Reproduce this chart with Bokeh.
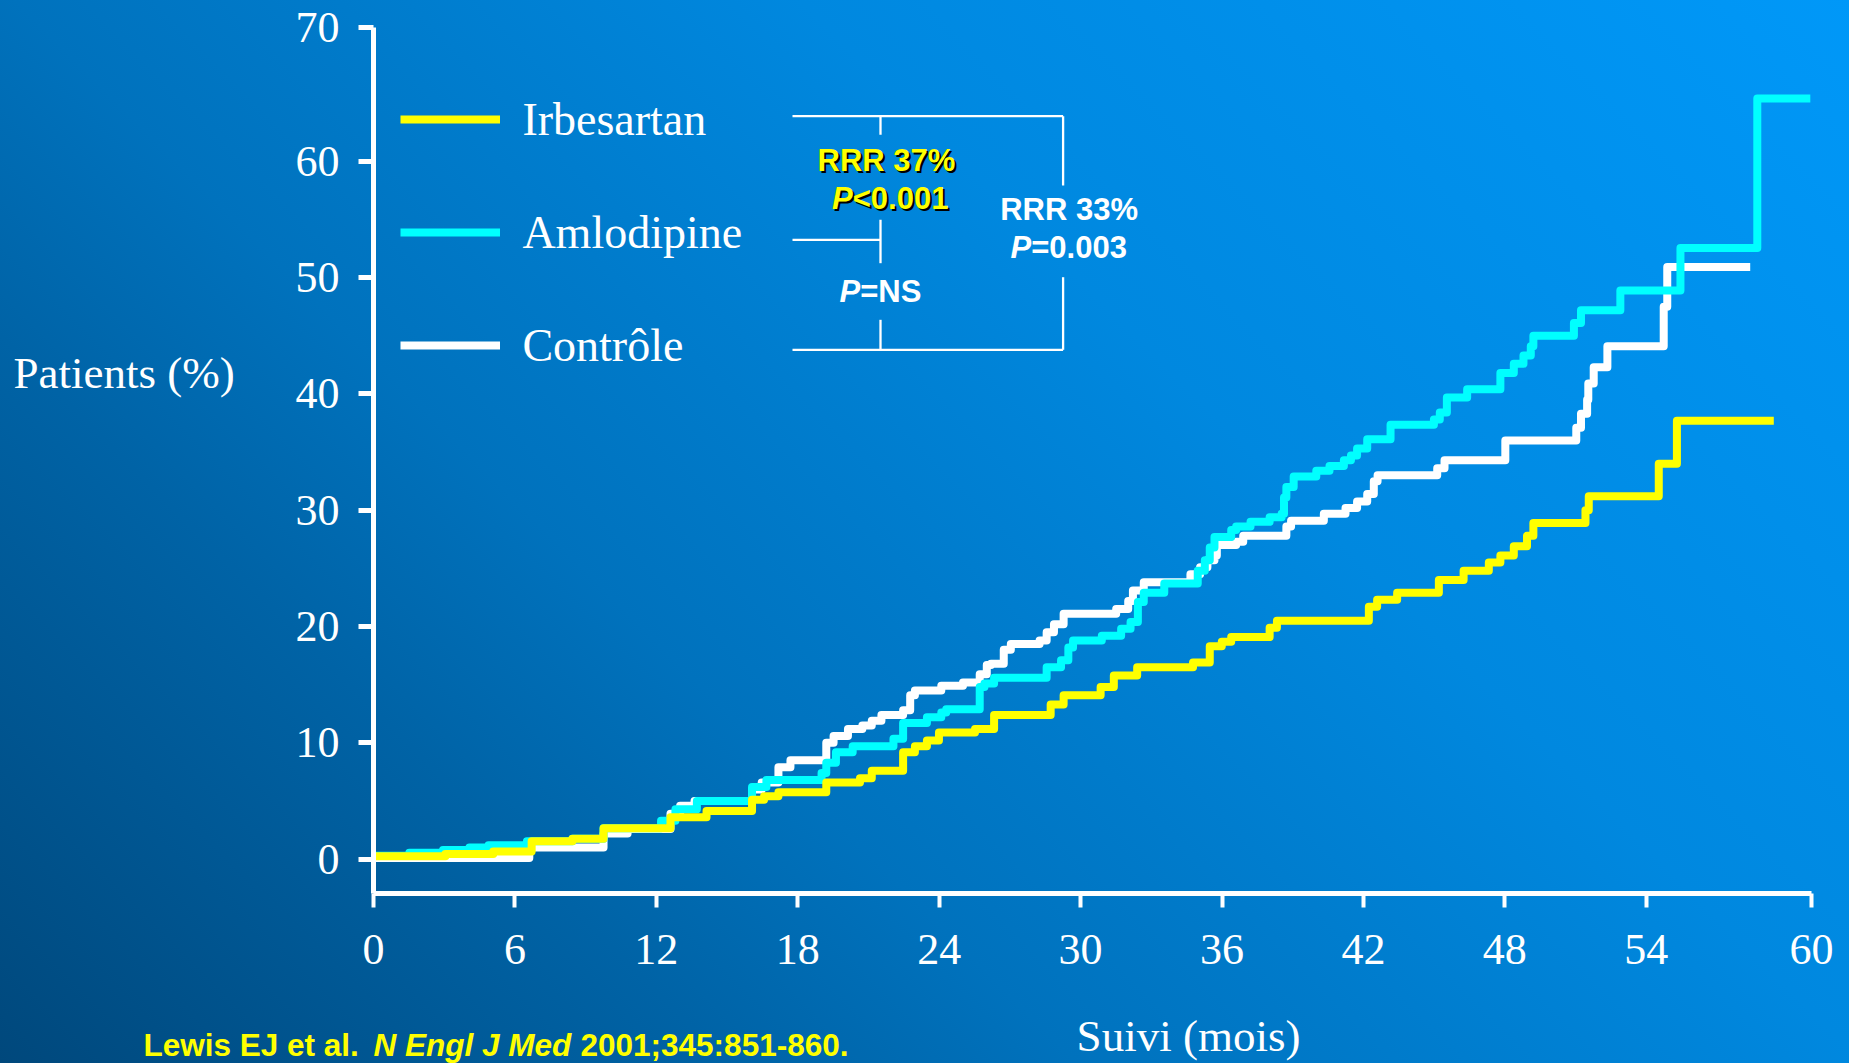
from bokeh.plotting import figure
from bokeh.models import FixedTicker, Label, Legend, LegendItem
from bokeh.embed import file_html
from bokeh.resources import INLINE

# Cumulative event rate (%) per treatment arm, as step curves over months of follow-up
irb_months = [0, 3.05, 5.08, 6.71, 8.44, 9.76, 12.6, 14.13, 16.06, 16.57, 17.18,
              19.21, 20.64, 21.14, 22.47, 22.97, 23.48, 23.99, 25.52, 26.33, 28.73,
              29.28, 30.85, 31.41, 32.4, 34.77, 35.48, 35.99, 36.39, 38.02, 38.33,
              42.23, 42.58, 43.43, 45.2, 46.25, 47.32, 47.81, 48.38, 48.94, 49.21,
              51.42, 51.56, 54.53, 55.3, 59.41]
irb_pct = [0.25, 0.45, 0.65, 1.55, 1.75, 2.65, 3.6, 4.15, 5.1, 5.4, 5.75,
           6.6, 6.95, 7.6, 9.2, 9.7, 10.2, 10.9, 11.2, 12.4, 13.3,
           14.1, 14.8, 15.8, 16.5, 16.9, 18.3, 18.7, 19.1, 19.9, 20.5,
           21.7, 22.3, 22.9, 24.0, 24.8, 25.5, 26.1, 26.9, 27.8, 28.9,
           30.0, 31.2, 34.0, 37.7, 37.7]

aml_months = [0, 1.52, 2.95, 4.07, 4.88, 6.51, 8.44, 9.76, 12.2, 12.81,
              13.72, 16.06, 16.67, 19.01, 19.21, 19.62, 20.33, 22.06, 22.47, 23.48,
              24.09, 24.3, 25.72, 25.92, 26.33, 28.56, 29.17, 29.48, 29.68, 30.9,
              31.72, 32.12, 32.43, 32.68, 33.55, 34.97, 35.27, 35.48, 35.68, 36.39,
              36.6, 37.21, 38.02, 38.53, 38.63, 38.73, 39.04, 40.0, 40.56, 41.17,
              41.47, 41.73, 42.16, 43.15, 44.99, 45.24, 45.54, 46.4, 47.81, 48.38,
              48.79, 49.1, 49.21, 50.93, 51.23, 52.9, 55.45, 58.71, 60.96]
aml_pct = [0.3, 0.55, 0.8, 1.0, 1.2, 1.55, 1.75, 2.65, 3.3, 4.3,
           5.0, 6.2, 6.8, 7.4, 8.3, 9.2, 9.7, 10.35, 11.7, 12.2,
           12.6, 12.9, 14.8, 15.1, 15.6, 16.5, 17.1, 18.2, 18.8, 19.2,
           19.8, 20.4, 22.1, 22.9, 23.7, 24.8, 25.7, 26.8, 27.7, 28.3,
           28.6, 29.0, 29.4, 29.7, 31.1, 32.0, 32.9, 33.4, 33.8, 34.3,
           34.7, 35.3, 36.1, 37.35, 37.8, 38.4, 39.7, 40.4, 41.8, 42.6,
           43.3, 44.1, 45.0, 46.1, 47.2, 48.9, 52.55, 65.4, 65.4]

ctl_months = [0, 6.61, 9.76, 10.78, 12.6, 13.01, 13.62, 16.06, 16.47, 17.18,
              17.69, 19.21, 19.52, 20.13, 20.74, 21.14, 21.55, 22.47, 22.77, 22.97,
              24.09, 25.01, 25.72, 26.02, 26.2, 26.74, 27.04, 28.26, 28.56, 28.87,
              29.28, 31.51, 32.02, 32.22, 32.68, 34.66, 35.07, 35.38, 35.68, 35.78,
              36.6, 36.9, 38.73, 38.93, 40.32, 41.24, 41.73, 42.16, 42.44, 42.6,
              45.13, 45.44, 48.02, 51.03, 51.23, 51.49, 51.54, 51.77, 52.35, 54.74,
              54.89, 58.41]
ctl_pct = [0.1, 1.0, 2.2, 2.6, 3.9, 4.6, 5.0, 6.0, 6.6, 7.9,
           8.5, 10.0, 10.6, 11.2, 11.5, 11.9, 12.4, 12.8, 14.1, 14.5,
           14.9, 15.2, 15.9, 16.7, 16.8, 18.0, 18.5, 18.8, 19.5, 20.2,
           21.1, 21.5, 22.2, 23.1, 23.8, 24.5, 25.1, 25.7, 26.1, 27.0,
           27.3, 27.8, 28.6, 29.1, 29.7, 30.2, 30.75, 31.4, 32.5, 33.0,
           33.6, 34.3, 36.0, 37.1, 38.3, 39.5, 40.9, 42.3, 44.1, 47.5,
           50.9, 50.9]

series_names = ["Irbesartan", "Amlodipine", "Contrôle"]
series_colors = ["#ffff00", "#00ffff", "#ffffff"]

# Axis ticks; the last tick of each axis sits at the axis end
x_ticks = [0, 6, 12, 18, 24, 30, 36, 42, 48, 54, 61.01]
x_tick_labels = ["0", "6", "12", "18", "24", "30", "36", "42", "48", "54", "60"]
y_ticks = [0, 10, 20, 30, 40, 50, 60, 71.5]
y_tick_labels = ["0", "10", "20", "30", "40", "50", "60", "70"]

W, H = 1849, 1063
# pixel box spanned by the two axes, and the data extent it covers
BOX_L, BOX_R, BOX_T, BOX_B = 373, 1811, 27, 893
AX_X0, AX_X1 = 0, 61.01
AX_Y0, AX_Y1 = -2.95, 71.5
KX = (AX_X1 - AX_X0) / (BOX_R - BOX_L)   # months per pixel
KY = (AX_Y1 - AX_Y0) / (BOX_B - BOX_T)   # percent per pixel


def dx(px):
    """Canvas pixel column -> x data coordinate."""
    return AX_X0 + (px - BOX_L) * KX


def dy(py):
    """Canvas pixel row -> y data coordinate."""
    return AX_Y0 + (BOX_B - py) * KY


SERIF = "Liberation Serif"
SANS = "Liberation Sans"

# the plotting frame covers the whole canvas; axes sit at fixed locations inside it
p = figure(width=W, height=H, x_range=(dx(0), dx(W)), y_range=(dy(H), dy(0)),
           output_backend="svg", toolbar_location=None, title=None,
           min_border=0)

p.background_fill_color = None
p.border_fill_color = None
p.outline_line_color = None
p.grid.visible = False
p.styles = {"background": "linear-gradient(45deg, #00487c 0%, #0063a6 25%, "
                          "#0072bd 37%, #0088df 64%, #0098f8 100%)"}

# axes
xa, ya = p.xaxis[0], p.yaxis[0]
xa.fixed_location = AX_Y0
xa.bounds = (AX_X0, AX_X1)
ya.fixed_location = AX_X0
ya.bounds = (AX_Y0, AX_Y1)
for ax, ticks, labels, tick_w, tick_len in (
        (xa, x_ticks, x_tick_labels, 4, 14),
        (ya, y_ticks, y_tick_labels, 5, 15)):
    ax.ticker = FixedTicker(ticks=ticks)
    overrides = {}
    for t, lab in zip(ticks, labels):
        overrides[t] = lab
        overrides[str(t)] = lab
    ax.major_label_overrides = overrides
    ax.axis_line_color = "white"
    ax.axis_line_width = 5
    ax.major_tick_line_color = "white"
    ax.major_tick_line_width = tick_w
    ax.major_tick_out = tick_len
    ax.major_tick_in = 0
    ax.minor_tick_line_color = None
    ax.major_label_text_color = "white"
    ax.major_label_text_font = SERIF
    ax.major_label_text_font_size = "44px"
xa.major_label_standoff = 27
ya.major_label_standoff = 19

# curves (control underneath, irbesartan on top)
sources = [(irb_months, irb_pct), (aml_months, aml_pct), (ctl_months, ctl_pct)]
renderers = {}
for idx in (2, 1, 0):
    xs, ys = sources[idx]
    renderers[idx] = p.step(x=xs, y=ys, mode="after", line_color=series_colors[idx],
                            line_width=8, line_join="round")

# legend rows centred at y = 119, 232, 345 px; swatches start at x = 400 px
legend = Legend(
    items=[LegendItem(label=series_names[i], renderers=[renderers[i]]) for i in range(3)],
    location=(400.4, H - 373.3),
    glyph_width=100, glyph_height=56, label_height=56, spacing=57,
    label_standoff=22, padding=0, margin=0,
    border_line_color=None, background_fill_alpha=0,
    label_text_font=SERIF, label_text_font_size="46px", label_text_color="white",
)
p.add_layout(legend)

# brackets linking the legend rows with the comparison statistics
bx0, bx_mid, bx_right = 792, 880, 1062.6
row_irb, row_aml, row_ctl = 115.7, 239.3, 349.3
seg = [
    (bx0, row_irb, bx_right, row_irb),
    (bx0, row_ctl, bx_right, row_ctl),
    (bx_right, row_irb, bx_right, 185),
    (bx_right, 276.7, bx_right, row_ctl),
    (bx_mid, row_irb, bx_mid, 134.3),
    (bx_mid, 219.3, bx_mid, 262.7),
    (bx_mid, 319.3, bx_mid, row_ctl),
    (bx0, row_aml, bx_mid, row_aml),
]
p.segment(x0=[dx(s[0]) for s in seg], y0=[dy(s[1]) for s in seg],
          x1=[dx(s[2]) for s in seg], y1=[dy(s[3]) for s in seg],
          line_color="white", line_width=2.3)


def add_text(px, py, text, color="white", font=SANS, size="31px", style="bold",
             align="left", shadow=False):
    """Text placed by its left/centre x and the vertical middle of its capitals."""
    if shadow:
        p.add_layout(Label(x=dx(px + 2), y=dy(py + 2), text=text, text_color="black",
                           text_font=font, text_font_size=size, text_font_style=style,
                           text_align=align, text_baseline="middle"))
    p.add_layout(Label(x=dx(px), y=dy(py), text=text, text_color=color,
                       text_font=font, text_font_size=size, text_font_style=style,
                       text_align=align, text_baseline="middle"))


YEL = "#ffff00"
add_text(886, 160, "RRR 37%", color=YEL, align="center", shadow=True)
add_text(831.5, 198.3, "P", color=YEL, style="bold italic", shadow=True)
add_text(852.2, 198.3, "<0.001", color=YEL, shadow=True)
add_text(1068.6, 209.2, "RRR 33%", align="center")
add_text(1010, 246.7, "P", style="bold italic")
add_text(1030.7, 246.7, "=0.003")
add_text(839, 290.5, "P", style="bold italic")
add_text(859.7, 290.5, "=NS")

# axis titles
add_text(13, 372, "Patients (%)", font=SERIF, size="45px", style="normal")
add_text(1188, 1035, "Suivi (mois)", font=SERIF, size="45px", style="normal", align="center")

# reference line
add_text(143, 1044, "Lewis EJ et al.", color=YEL, size="31.5px")
add_text(373, 1044, "N Engl J Med", color=YEL, size="31.5px", style="bold italic")
add_text(580, 1044, "2001;345:851-860.", color=YEL, size="31.5px")

open("out.html", "w").write(file_html(p, INLINE))
